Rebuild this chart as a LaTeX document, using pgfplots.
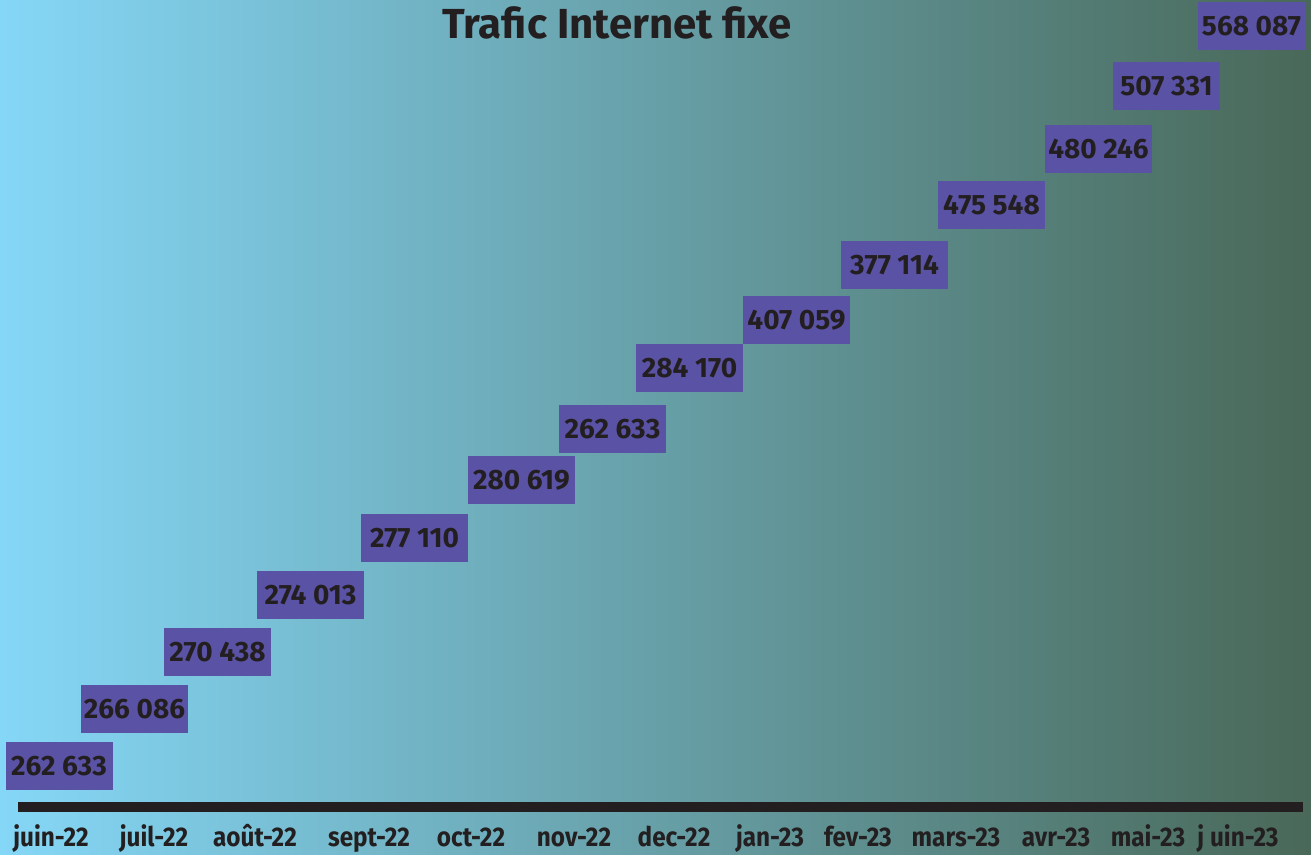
\documentclass[border=0pt]{standalone}
\usepackage{pgfplots}
\usepackage{pgfplotstable}
\usepackage{fontspec}
\pgfplotsset{compat=1.18}
\setmainfont{Fira Sans}
\newfontfamily\condfont[FakeStretch=0.9]{Fira Sans}
\definecolor{bgL}{RGB}{133,215,247}
\definecolor{bgR}{RGB}{73,104,88}
\definecolor{boxc}{RGB}{90,82,165}
\definecolor{txt}{RGB}{35,31,32}
\pgfplotstableread[col sep=comma]{
x,y,label
59,89,262 633
134.5,145.5,266 086
217.5,202.5,270 438
310.5,260,274 013
414.5,317,277 110
521.5,375,280 619
612.5,425.5,262 633
689.5,487,284 170
796.5,535,407 059
894.5,590,377 114
991.5,649.5,475 548
1098.5,706,480 246
1166.5,769,507 331
1251.5,829,568 087
}\data
\begin{document}
\begin{tikzpicture}
\begin{axis}[
  set layers,
  scale only axis,
  width=655.5pt, height=427pt,
  xmin=0, xmax=1311, ymin=0, ymax=854,
  clip=false,
  axis line style={draw=none},
  major tick length=0pt,
  ytick=\empty,
  xtick={51,154,255,369,471,574,674,770,858,956,1056,1148,1238},
  xticklabels={juin-22,juil-22,août-22,sept-22,oct-22,nov-22,dec-22,jan-23,fev-23,mars-23,avr-23,mai-23,j uin-23},
  xticklabel style={anchor=base, yshift=4pt, inner sep=0pt, font=\condfont\bfseries\fontsize{13.5}{14}\selectfont, text=txt},
]
\begin{pgfonlayer}{axis background}
\fill[left color=bgL, right color=bgR] (axis cs:0,0) rectangle (axis cs:1311,854);
\end{pgfonlayer}
\fill[txt] (axis cs:18,43) rectangle (axis cs:1303,53);
\node[font=\bfseries\fontsize{21}{24}\selectfont, text=txt] at (axis cs:617,832) {Trafic Internet fixe};
\addplot[only marks, mark=none, point meta=explicit symbolic,
  nodes near coords,
  every node near coord/.append style={anchor=center, fill=boxc, text=txt,
    minimum width=53.5pt, minimum height=24pt, inner sep=0pt,
    font=\bfseries\fontsize{14}{16}\selectfont}]
  table[x=x, y=y, meta=label] {\data};
\end{axis}
\end{tikzpicture}
\end{document}
